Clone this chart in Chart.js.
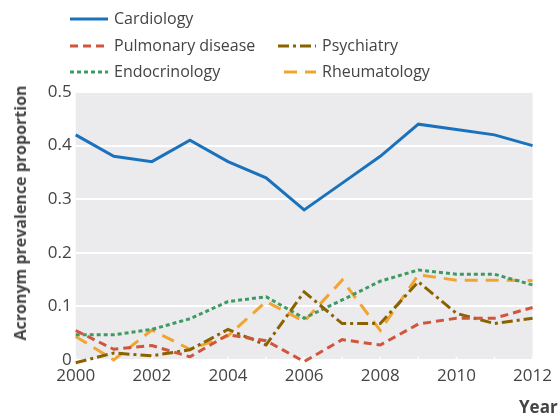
<!DOCTYPE html>
<html>
<head>
<meta charset="utf-8">
<script src="https://cdn.jsdelivr.net/npm/chart.js@4/dist/chart.umd.min.js"></script>
<style>
  html, body { margin: 0; padding: 0; background: #fff; }
  #wrap { position: relative; width: 558px; height: 419px; overflow: hidden; }
  #c { position: absolute; left: 0; top: 0; }
  .lg { position: absolute; font-family: "Open Sans", "Noto Sans", sans-serif; font-size: 16px; color: #444; white-space: nowrap; line-height: 20px; }
  .ttl { position: absolute; font-family: "Open Sans", "Noto Sans", sans-serif; font-weight: bold; color: #444; white-space: nowrap; line-height: 20px; }
  #ytitle { left: 19.5px; top: 212.5px; font-size: 16px; transform: translate(-50%, -50%) rotate(-90deg); }
  #xtitle { left: 519px; top: 397px; font-size: 17px; }
</style>
</head>
<body>
<div id="wrap">
  <canvas id="c" width="558" height="419"></canvas>
  <div id="legend"></div>
  <div class="ttl" id="ytitle">Acronym prevalence proportion</div>
  <div class="ttl" id="xtitle">Year</div>
</div>
<script>
const years = [2000, 2001, 2002, 2003, 2004, 2005, 2006, 2007, 2008, 2009, 2010, 2011, 2012];
const yTicks = [0, 0.1, 0.2, 0.3, 0.4, 0.5];
const cardiology = [0.42, 0.38, 0.37, 0.41, 0.37, 0.34, 0.28, 0.33, 0.38, 0.44, 0.43, 0.42, 0.40];
const pulmonary = [0.055, 0.02, 0.027, 0.006, 0.047, 0.036, -0.003, 0.038, 0.028, 0.067, 0.078, 0.078, 0.098];
const psychiatry = [-0.005, 0.013, 0.008, 0.019, 0.057, 0.028, 0.127, 0.068, 0.068, 0.146, 0.087, 0.068, 0.078];
const endocrinology = [0.047, 0.047, 0.057, 0.077, 0.109, 0.118, 0.078, 0.112, 0.147, 0.168, 0.16, 0.16, 0.14];
const rheumatology = [0.044, 0.0, 0.056, 0.02, 0.045, 0.109, 0.072, 0.149, 0.055, 0.159, 0.149, 0.149, 0.148];

const series = [
  { label: 'Cardiology', data: cardiology, color: '#1a72bd', dash: [], width: 3 },
  { label: 'Pulmonary disease', data: pulmonary, color: '#d0553a', dash: [8, 5], width: 3 },
  { label: 'Psychiatry', data: psychiatry, color: '#8a6300', dash: [11, 4, 3, 4], width: 3 },
  { label: 'Endocrinology', data: endocrinology, color: '#3e9a60', dash: [4, 3], width: 3 },
  { label: 'Rheumatology', data: rheumatology, color: '#f0a530', dash: [13, 8], width: 3 }
];

// legend (HTML)
const legendPos = [
  { x: 70, y: 8, tx: 114 },
  { x: 70, y: 35, tx: 114 },
  { x: 278, y: 35, tx: 322 },
  { x: 70, y: 61, tx: 114 },
  { x: 284, y: 61, tx: 322 }
];
const legendEl = document.getElementById('legend');
series.forEach((s, i) => {
  const p = legendPos[i];
  const d = document.createElement('div');
  d.className = 'lg';
  d.style.left = p.tx + 'px';
  d.style.top = p.y + 'px';
  d.textContent = s.label;
  legendEl.appendChild(d);
  const cv = document.createElement('canvas');
  const w = p.tx - 6 - p.x;
  cv.width = w; cv.height = 8;
  cv.style.position = 'absolute';
  cv.style.left = p.x + 'px';
  cv.style.top = (p.y + 7) + 'px';
  const cx = cv.getContext('2d');
  cx.strokeStyle = s.color; cx.lineWidth = s.width; cx.setLineDash(s.dash);
  cx.beginPath(); cx.moveTo(0, 4); cx.lineTo(w, 4); cx.stroke();
  legendEl.appendChild(cv);
});

const bgPlugin = {
  id: 'bg',
  beforeDraw(chart) {
    const { ctx, chartArea: a } = chart;
    ctx.save();
    ctx.fillStyle = '#ebebed';
    ctx.fillRect(a.left, a.top, a.right - a.left, a.bottom - a.top);
    ctx.restore();
  },
  beforeDatasetsDraw(chart) {
    const { ctx, chartArea: a, scales } = chart;
    ctx.save();
    ctx.strokeStyle = '#ffffff';
    ctx.lineWidth = 1.5;
    years.forEach((y, i) => {
      const x = scales.x.getPixelForValue(i);
      ctx.beginPath(); ctx.moveTo(x, a.bottom); ctx.lineTo(x, a.bottom - 3.5); ctx.stroke();
    });
    ctx.restore();
  }
};

const font = "'Open Sans', 'Noto Sans', sans-serif";
new Chart(document.getElementById('c'), {
  type: 'line',
  data: {
    labels: years.map(String),
    datasets: series.map(s => ({
      label: s.label, data: s.data, borderColor: s.color, backgroundColor: s.color,
      borderDash: s.dash, borderWidth: s.width, pointRadius: 0, tension: 0, clip: false, fill: false
    }))
  },
  options: {
    responsive: false, animation: false,
    layout: { padding: { top: 92, right: 22, left: 0, bottom: 0 } },
    plugins: { legend: { display: false }, tooltip: { enabled: false } },
    scales: {
      x: {
        type: 'category',
        grid: { display: false, drawTicks: false },
        border: { display: false },
        ticks: {
          autoSkip: false, maxRotation: 0, color: '#444', padding: 6,
          font: { family: font, size: 17 },
          callback: (v, i) => (years[i] % 2 === 0 ? String(years[i]) : '')
        },
        title: { display: false },
        afterFit: s => { s.height = 59; }
      },
      y: {
        min: 0, max: 0.5,
        afterBuildTicks: s => { s.ticks = yTicks.map(v => ({ value: v })); },
        grid: { color: '#ffffff', lineWidth: 2, drawTicks: false },
        border: { display: false },
        ticks: { color: '#444', padding: 4, font: { family: font, size: 17 }, callback: v => (v === 0 ? '0' : v.toFixed(1)) },
        title: { display: false },
        afterFit: s => { s.width = 75.7; }
      }
    }
  },
  plugins: [bgPlugin]
});
</script>
</body>
</html>
